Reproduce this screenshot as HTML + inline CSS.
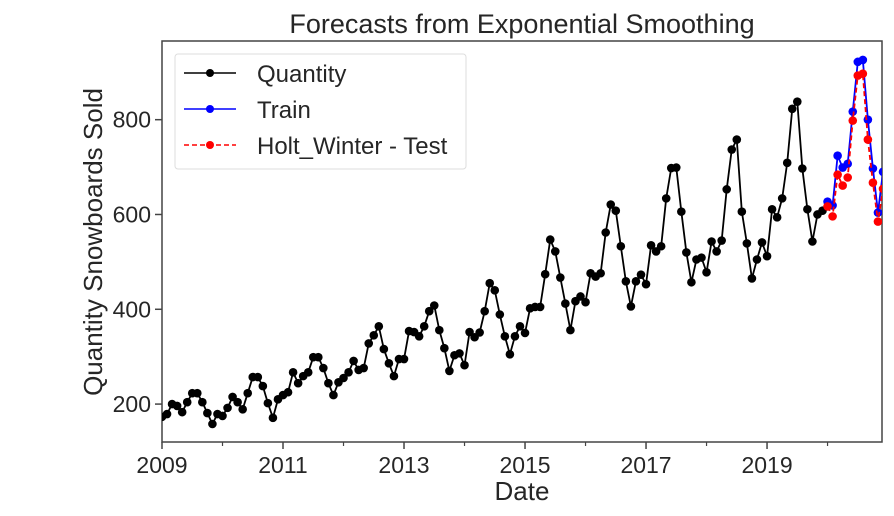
<!DOCTYPE html>
<html><head><meta charset="utf-8"><style>
html,body{margin:0;padding:0;background:#fff;}
svg text{font-family:"Liberation Sans",sans-serif;fill:#262626;}
</style></head><body>
<svg id="chart" width="894" height="511" xmlns="http://www.w3.org/2000/svg">
<text x="522" y="33" text-anchor="middle" font-size="27">Forecasts from Exponential Smoothing</text>
<text x="522" y="500" text-anchor="middle" font-size="26">Date</text>
<text transform="translate(102,242) rotate(-90)" text-anchor="middle" font-size="26">Quantity Snowboards Sold</text>
<g id="plot"></g>
</svg>
<script>
const quantity = [173,179,200,196,183,204,223,223,204,181,158,179,
175,192,215,204,189,223,257,257,238,202,171,210,
219,225,267,244,259,267,299,299,276,244,219,246,
255,267,291,272,276,328,345,364,316,286,259,295,
295,354,352,343,364,396,408,356,318,270,303,307,
282,352,341,351,396,455,440,389,343,305,343,364,
350,402,405,405,474,547,522,467,412,356,417,427,
415,476,469,476,562,621,608,533,459,406,459,473,
453,535,522,533,634,698,699,606,520,457,505,509,
478,543,522,545,653,737,758,606,539,465,505,541,
512,611,594,634,709,823,838,697,611,543,600,608];
const train = [627,619,724,699,707,817,922,926,800,697,604,690];
const test = [617,596,684,661,678,798,893,897,758,667,585,654];
const xTicks = [2009,2011,2013,2015,2017,2019];
const xMinor = [2010,2012,2014,2016,2018,2020];
const yTicks = [200,400,600,800];

const L=162,R=882,T=41,B=442;
const x0=2009,x1=2020.9,y0=120,y1=966;
function sx(d){return L+(d-x0)/(x1-x0)*(R-L);}
function sy(v){return B-(v-y0)/(y1-y0)*(B-T);}
const NS="http://www.w3.org/2000/svg";
const g=document.getElementById('plot');
function mk(tag,attrs,parent){const e=document.createElementNS(NS,tag);for(const k in attrs)e.setAttribute(k,attrs[k]);(parent||g).appendChild(e);return e;}

const clip=mk('clipPath',{id:'clp'});
mk('rect',{x:L,y:T,width:R-L,height:B-T},clip);
const frame=mk('rect',{x:L,y:T,width:R-L,height:B-T,fill:'none',stroke:'#444','stroke-width':1.5});



xTicks.forEach(t=>{
  const X=sx(t);
  const tk=mk('line',{x1:X,x2:X,y1:B,y2:B+7,stroke:'#444','stroke-width':1.5});
  
  
  const tx=mk('text',{x:X,y:473,'text-anchor':'middle','font-size':23});
  tx.textContent=t;
  
  
});
xMinor.forEach(t=>{
  const X=sx(t);
  const tk=mk('line',{x1:X,x2:X,y1:B,y2:B+4,stroke:'#444','stroke-width':1.2});
  
  
});
yTicks.forEach(t=>{
  const Y=sy(t);
  const tk=mk('line',{x1:L-7,x2:L,y1:Y,y2:Y,stroke:'#444','stroke-width':1.5});
  
  
  const tx=mk('text',{x:L-11,y:Y+8,'text-anchor':'end','font-size':23});
  tx.textContent=t;
  
  
});

function series(vals,start,color,dash,name){
  const grp=mk('g',{'clip-path':'url(#clp)'});
  
  
  const pts=vals.map((v,i)=>[sx(start+i/12),sy(v)]);
  const p=mk('polyline',{points:pts.map(p=>p.join(',')).join(' '),fill:'none',stroke:color,'stroke-width':1.8},grp);
  if(dash)p.setAttribute('stroke-dasharray',dash);
  
  
  pts.forEach(q=>{
    const c=mk('circle',{cx:q[0],cy:q[1],r:4.3,fill:color},grp);
    
    
  });
}
series(quantity,2009,'#000',null,'quantity-series');
series(train,2020,'#0000ff',null,'train-series');
series(test,2020,'#ff0000','5,3','test-series');

const lg=mk('g',{});


mk('rect',{x:175,y:54,width:291,height:115,rx:3,fill:'#fff',stroke:'#ddd','stroke-width':1},lg);
[['Quantity','#000',null,73],['Train','#0000ff',null,109],['Holt_Winter - Test','#ff0000','5,3',145]].forEach(e=>{
  const en=mk('g',{},lg);
  
  
  const ln=mk('line',{x1:184,x2:236,y1:e[3],y2:e[3],stroke:e[1],'stroke-width':1.6},en);
  if(e[2])ln.setAttribute('stroke-dasharray',e[2]);
  mk('circle',{cx:210,cy:e[3],r:4,fill:e[1]},en);
  const t=mk('text',{x:257,y:e[3]+9,'font-size':24},en);
  t.textContent=e[0];
});
</script>
</body></html>
